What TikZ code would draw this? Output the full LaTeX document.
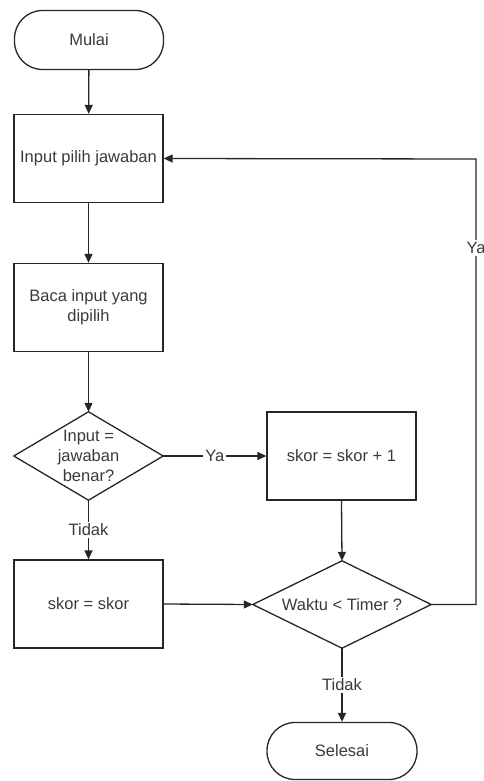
\documentclass[tikz,border=0pt]{standalone}
\usepackage{fontspec}
\setmainfont{Liberation Sans}
\usetikzlibrary{arrows.meta}
\definecolor{ln}{HTML}{262626}
\definecolor{tx}{HTML}{3A3A3A}
\begin{document}
\begin{tikzpicture}[x=1pt,y=-1pt,
  every node/.style={font=\fontsize{16.5}{20}\selectfont, text=tx, align=center, inner sep=0pt},
  line/.style={draw=ln, line width=1.3pt},
  arr/.style={line, -{Triangle[length=9pt,width=8pt]}},
  term/.style={line, rounded corners=28pt, minimum width=149pt, minimum height=59pt},
  proc/.style={line, minimum width=149pt, minimum height=88pt},
  dec/.style={minimum width=#1, minimum height=88pt},
  lbl/.style={fill=white, inner sep=2pt}]
\useasboundingbox (0,0) rectangle (484,781);
\node[term] (mulai) at (89,40) {Mulai};
\node[proc] (input) at (88.5,158.5) {Input pilih jawaban};
\node[proc] (baca) at (88.5,307.5) {Baca input yang\\dipilih};
\node[dec=149pt] (d1) at (88.5,456) {Input =\\jawaban\\benar?};
\draw[line] (d1.north) -- (d1.east) -- (d1.south) -- (d1.west) -- cycle;
\node[proc] (skor1) at (341.5,456) {skor = skor + 1};
\node[proc] (skor0) at (88.5,604) {skor = skor};
\node[dec=178pt, minimum height=87pt] (d2) at (342,604.5) {Waktu < Timer ?};
\draw[line] (d2.north) -- (d2.east) -- (d2.south) -- (d2.west) -- cycle;
\node[term, minimum width=150pt, minimum height=57pt] (selesai) at (342,751) {Selesai};
\coordinate (rt) at (476,159);

\draw[arr] (mulai) -- (input);
\draw[arr] (input) -- (baca);
\draw[arr] (baca) -- (d1.north);
\draw[arr] (d1.east) -- node[lbl] {Ya} (skor1.west);
\draw[arr] (d1.south) -- node[lbl] {Tidak} (skor0.north);
\draw[arr] (skor1.south) -- (d2.north);
\draw[arr] (skor0.east) -- (d2.west);
\draw[arr] (d2.south) -- node[lbl] {Tidak} (selesai.north);
\draw[arr] (d2.east) -- (d2.east -| rt) -- node[lbl, pos=0.8] {Ya} (rt) -- (input.east);
\end{tikzpicture}
\end{document}
